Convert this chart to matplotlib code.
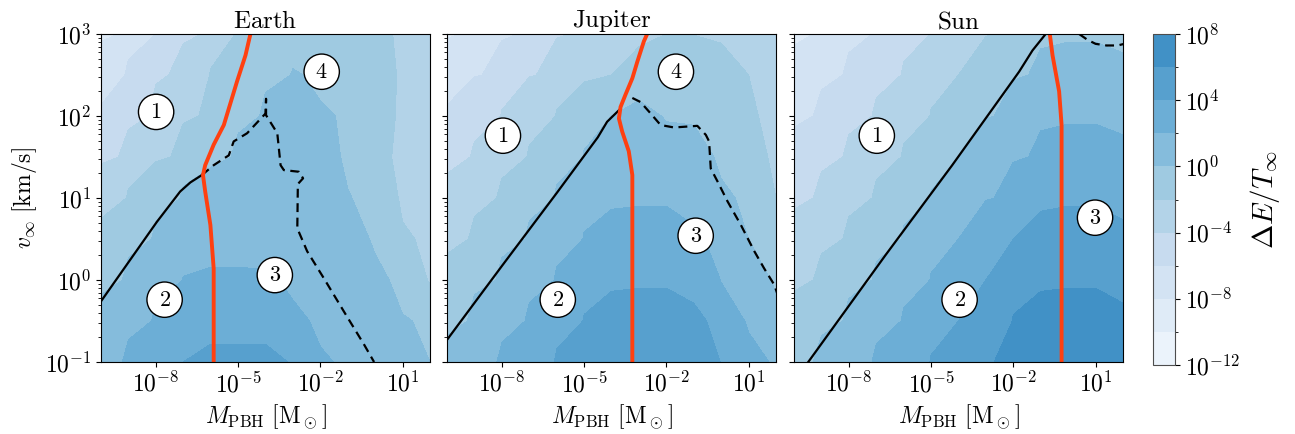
import numpy as np
import matplotlib
matplotlib.use("Agg")
from matplotlib import pyplot as plt
from matplotlib.colors import ListedColormap, BoundaryNorm
from matplotlib.ticker import FuncFormatter, NullLocator

plt.rcParams['mathtext.fontset'] = 'cm'
plt.rcParams['font.family'] = 'serif'
plt.rcParams['font.serif'] = ['DejaVu Serif']

# grid of the maps: log10 of M_PBH (columns) and of v_inf (rows)
log_m = [-10, -9, -8, -7, -6, -5, -4, -3, -2, -1, 0, 1, 2]
log_v = [-1.0, -0.5, 0.0, 0.5, 1.0, 1.5, 2.0, 2.5, 3.0]

# log10(Delta E / T_inf), one row per log_v
earth_dE = [
    [1.5, 2.4, 3.3, 4.0, 4.3, 4.3, 4.3, 3.8, 2.2, 1.3, 0.8, 0.4, 0.0],
    [0.5, 1.4, 2.3, 3.0, 3.3, 3.3, 3.3, 2.3, 1.4, 0.9, 0.5, 0.1, -0.6],
    [-0.5, 0.4, 1.3, 2.05, 2.2, 2.2, 2.15, 1.5, 0.9, 0.6, 0.3, -0.9, -2.3],
    [-1.5, -0.6, 0.3, 1.0, 1.2, 1.2, 1.2, 0.9, 0.7, 0.4, -0.3, -1.8, -2.8],
    [-2.9, -1.8, -0.7, 0.25, 0.5, 0.6, 0.6, 0.5, 0.4, 0.05, -1.0, -2.5, -3.2],
    [-4.4, -3.3, -2.3, -1.2, -0.3, 0.3, 0.5, 0.4, 0.3, -0.3, -1.6, -2.8, -3.3],
    [-5.8, -4.6, -3.4, -2.3, -1.3, -0.4, 0.3, 0.4, 0.2, -0.5, -1.4, -2.6, -3.3],
    [-7.0, -5.6, -4.3, -2.9, -1.9, -1.2, -0.4, 0.1, -0.6, -0.9, -1.5, -2.4, -3.2],
    [-8.4, -7.2, -6.0, -4.6, -3.0, -1.7, -1.2, -1.0, -1.1, -1.3, -1.7, -2.5, -3.3],
]
jupiter_dE = [
    [0.5, 1.5, 2.3, 3.2, 4.2, 5.0, 5.5, 5.7, 5.7, 5.3, 3.9, 2.6, 1.4],
    [-0.5, 0.5, 1.4, 2.3, 3.2, 4.1, 4.6, 4.7, 4.7, 4.3, 2.9, 1.6, 0.5],
    [-1.5, -0.5, 0.4, 1.3, 2.2, 3.0, 3.6, 3.7, 3.7, 3.3, 1.9, 0.6, -0.4],
    [-2.5, -1.6, -0.6, 0.3, 1.2, 2.1, 2.6, 2.7, 2.7, 2.2, 1.0, 0.0, -1.0],
    [-3.5, -2.6, -1.6, -0.7, 0.2, 1.1, 1.6, 1.7, 1.7, 1.3, 0.3, -0.9, -2.0],
    [-4.6, -3.7, -2.8, -1.8, -0.8, 0.1, 0.9, 1.2, 1.1, 0.6, -0.6, -1.6, -2.5],
    [-5.8, -4.9, -3.9, -2.9, -1.9, -0.9, 0.0, 0.5, -0.3, -0.3, -1.0, -1.9, -2.6],
    [-7.0, -6.1, -5.1, -4.1, -3.0, -2.4, -2.0, -1.5, -1.0, -1.0, -1.4, -2.0, -2.6],
    [-8.2, -7.3, -6.3, -5.3, -4.2, -3.3, -2.7, -2.4, -2.0, -2.05, -2.3, -2.6, -3.0],
]
sun_dE = [
    [-0.4, 0.5, 1.4, 2.3, 3.2, 4.1, 5.0, 5.9, 6.8, 7.4, 7.7, 7.7, 7.3],
    [-1.4, -0.5, 0.4, 1.3, 2.2, 3.1, 4.0, 5.0, 6.1, 6.6, 6.7, 6.7, 6.3],
    [-2.4, -1.5, -0.6, 0.3, 1.2, 2.1, 3.0, 4.0, 5.0, 5.6, 5.7, 5.7, 5.3],
    [-3.4, -2.5, -1.6, -0.7, 0.2, 1.1, 2.0, 2.9, 4.0, 4.6, 4.7, 4.7, 4.3],
    [-4.4, -3.5, -2.6, -1.7, -0.8, 0.1, 1.0, 1.9, 2.8, 3.5, 3.7, 3.7, 3.4],
    [-5.4, -4.5, -3.6, -2.7, -1.8, -0.9, 0.0, 0.9, 1.8, 2.5, 2.7, 2.7, 2.4],
    [-6.4, -5.5, -4.6, -3.7, -2.8, -1.9, -1.0, -0.1, 0.8, 1.5, 1.7, 1.7, 1.4],
    [-7.4, -6.5, -5.6, -4.7, -3.8, -2.9, -2.0, -1.1, -0.2, 0.5, 0.7, 0.7, 0.4],
    [-8.4, -7.5, -6.6, -5.7, -4.8, -3.9, -3.0, -2.1, -1.2, -0.5, -0.3, -0.3, -0.6],
]

# boundary curves (log10 M, log10 v)
earth_black = [(-10, -0.26), (-7.96, 0.71), (-7.11, 1.08), (-6.74, 1.19), (-6.32, 1.28)]
earth_red = [(-5.89, -1), (-5.89, 0.14), (-6.01, 0.67), (-6.2, 1.08), (-6.28, 1.28), (-6.2, 1.4),
             (-5.89, 1.65), (-5.52, 1.89), (-5.04, 2.42), (-4.73, 2.74), (-4.55, 3.0)]
earth_dash = [(-6.32, 1.28), (-5.89, 1.40), (-5.34, 1.52), (-5.16, 1.69), (-4.67, 1.79), (-4.0, 2.03),
              (-3.98, 2.21), (-3.98, 2.01), (-3.57, 1.79), (-3.45, 1.40), (-3.33, 1.34), (-2.78, 1.32),
              (-2.63, 1.24), (-2.82, 1.17), (-2.84, 0.63), (-2.48, 0.35), (-1.87, 0.02), (-1.13, -0.39),
              (-0.40, -0.79), (-0.04, -1.0)]

jupiter_black = [(-10, -0.73), (-8, 0.17), (-6, 1.06), (-4.5, 1.74), (-4.16, 1.93), (-3.73, 2.07)]
jupiter_red = [(-3.24, -1), (-3.24, 1.28), (-3.37, 1.57), (-3.61, 1.81), (-3.73, 1.97), (-3.67, 2.11),
               (-3.49, 2.26), (-3.24, 2.46), (-3.06, 2.66), (-2.82, 2.91), (-2.7, 3.0)]
jupiter_dash = [(-3.24, 2.22), (-2.94, 2.17), (-2.57, 2.03), (-2.21, 1.89), (-1.72, 1.86), (-0.87, 1.88),
                (-0.56, 1.77), (-0.44, 1.69), (-0.38, 1.36), (-0.13, 1.20), (0.23, 0.96), (0.72, 0.67),
                (1.21, 0.35), (1.57, 0.14), (1.94, -0.06), (2.06, -0.18)]

sun_black = [(-9.48, -1.0), (-6.67, 0.30), (-4.23, 1.40), (-1.79, 2.54), (-1.30, 2.80), (-0.82, 3.0)]
sun_red = [(-0.24, -1), (-0.24, 1.89), (-0.33, 2.30), (-0.57, 2.74), (-0.67, 3.0)]
sun_dash = [(0.4, 3.0), (0.7, 2.93), (1.0, 2.88), (1.4, 2.86), (1.8, 2.86), (2.05, 2.88)]

# circled region labels (log10 M, log10 v)
earth_labels = [('1', -7.99, 2.05), ('2', -7.68, -0.24), ('3', -3.66, 0.06), ('4', -1.95, 2.54)]
jupiter_labels = [('1', -7.96, 1.76), ('2', -5.96, -0.24), ('3', -0.93, 0.54), ('4', -1.65, 2.54)]
sun_labels = [('1', -6.98, 1.76), ('2', -3.96, -0.24), ('3', 0.98, 0.76)]

panels = [
    ('Earth', earth_dE, earth_black, earth_red, earth_dash, earth_labels),
    ('Jupiter', jupiter_dE, jupiter_black, jupiter_red, jupiter_dash, jupiter_labels),
    ('Sun', sun_dE, sun_black, sun_red, sun_dash, sun_labels),
]

levels = np.arange(-12, 9, 2)
cmap = ListedColormap(plt.cm.Blues(np.linspace(0.06, 0.625, len(levels) - 1)))
norm = BoundaryNorm(levels, cmap.N)

pow10 = FuncFormatter(lambda val, pos: r'$10^{%d}$' % round(np.log10(val)))

fig = plt.figure(figsize=(12.95, 4.34), dpi=100)
lefts = [101, 447, 794]
X, Y = np.meshgrid(10.0 ** np.array(log_m), 10.0 ** np.array(log_v))

for k, (name, dE, black, red, dash, labels) in enumerate(panels):
    ax = fig.add_axes([lefts[k] / 1295, 72 / 434, 329 / 1295, 328 / 434])
    cs = ax.contourf(X, Y, np.array(dE), levels=levels, cmap=cmap, norm=norm)
    for pts, style in [(black, dict(color='k', lw=1.6)),
                       (dash, dict(color='k', lw=1.6, ls=(0, (4, 2.5)))),
                       (red, dict(color='#ff4010', lw=2.8))]:
        p = np.array(pts)
        ax.plot(10.0 ** p[:, 0], 10.0 ** p[:, 1], **style)
    for txt, lm, lv in labels:
        ax.text(10.0 ** lm, 10.0 ** lv, r'$%s$' % txt, fontsize=16, ha='center', va='center',
                bbox=dict(boxstyle='circle,pad=0.3', fc='white', ec='black', lw=1.0))
    ax.set_xscale('log')
    ax.set_yscale('log')
    ax.set_xlim(1e-10, 1e2)
    ax.set_ylim(1e-1, 1e3)
    ax.set_xticks([1e-8, 1e-5, 1e-2, 1e1])
    ax.xaxis.set_minor_locator(NullLocator())
    ax.set_yticks([1e-1, 1e0, 1e1, 1e2, 1e3])
    ax.xaxis.set_major_formatter(pow10)
    ax.yaxis.set_major_formatter(pow10)
    ax.tick_params(labelsize=17, direction='out')
    ax.set_title(r'$\mathrm{%s}$' % name, fontsize=18, pad=4)
    ax.set_xlabel(r'$M_\mathrm{PBH}\ [\mathrm{M}_\odot]$', fontsize=17)
    if k == 0:
        ax.set_ylabel(r'$v_\infty\ [\mathrm{km/s}]$', fontsize=17)
    else:
        ax.set_yticklabels([])

cax = fig.add_axes([1153 / 1295, 69 / 434, 22 / 1295, 331 / 434])
cb = fig.colorbar(cs, cax=cax, ticks=[-12, -8, -4, 0, 4, 8])
cb.ax.set_yticklabels([r'$10^{%d}$' % t for t in [-12, -8, -4, 0, 4, 8]])
cb.ax.tick_params(labelsize=17)
cb.outline.set_edgecolor('0.3')
cb.set_label(r'$\Delta E/T_\infty$', fontsize=21, labelpad=6)

fig.savefig('out.png', dpi=100)
